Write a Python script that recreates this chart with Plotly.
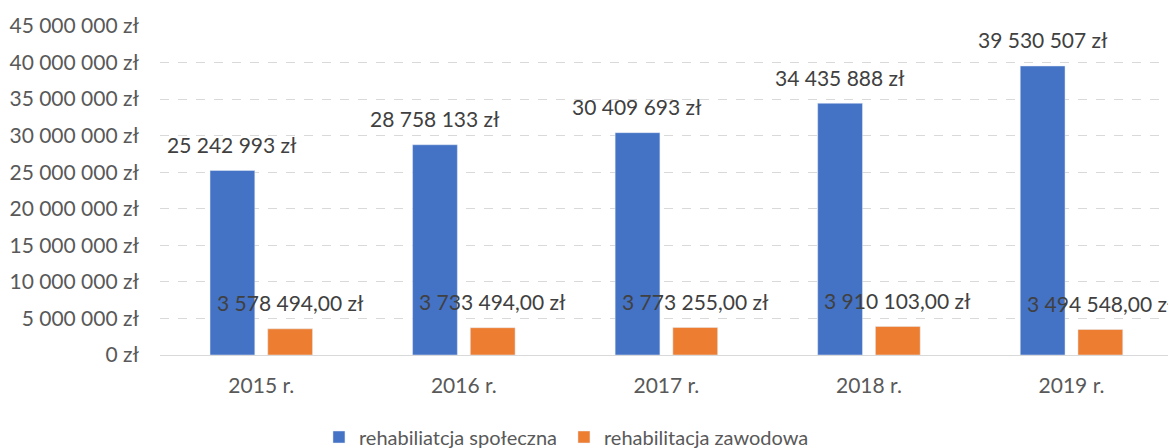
import plotly.graph_objects as go

categories = ["2015 r.", "2016 r.", "2017 r.", "2018 r.", "2019 r."]
spoleczna = [25242993, 28758133, 30409693, 34435888, 39530507]
zawodowa = [3578494.00, 3733494.00, 3773255.00, 3910103.00, 3494548.00]
series_names = ["rehabiliatcja społeczna", "rehabilitacja zawodowa"]
y_ticks = [0, 5000000, 10000000, 15000000, 20000000, 25000000, 30000000, 35000000, 40000000, 45000000]

BLUE = "#4472C4"
ORANGE = "#ED7D31"
TXT = "#595959"
FONT = "Lato"

def fmt(v, dec):
    s = f"{v:,.{dec}f}"
    s = s.replace(",", " ").replace(".", ",")
    return s + " zł"

fig = go.Figure()
fig.add_trace(go.Bar(x=categories, y=spoleczna, name=series_names[0], marker_color=BLUE))
fig.add_trace(go.Bar(x=categories, y=zawodowa, name=series_names[1], marker_color=ORANGE))

annotations = []
for c, v in zip(categories, spoleczna):
    annotations.append(dict(x=c, y=v, text=fmt(v, 0), showarrow=False, xshift=-29, yshift=26,
                            yanchor="middle", font=dict(size=21, color="#404040", family=FONT)))
for c, v in zip(categories, zawodowa):
    annotations.append(dict(x=c, y=v, text=fmt(v, 2), showarrow=False, xshift=29, yshift=26,
                            yanchor="middle", font=dict(size=21, color="#404040", family=FONT)))

# page has an 8px body margin; figure is sized/offset to compensate
fig.update_layout(
    width=1168, height=440,
    margin=dict(l=152, r=0, t=18, b=93),
    paper_bgcolor="white", plot_bgcolor="white",
    barmode="group", bargap=0.43, bargroupgap=0.224,
    font=dict(family=FONT, size=21, color=TXT),
    annotations=annotations,
    showlegend=True,
    legend=dict(orientation="h", xref="container", yref="container", x=0.476, xanchor="center",
                y=0.025, yanchor="middle", font=dict(size=20, color=TXT), entrywidth=200,
                traceorder="normal"),
)
fig.update_yaxes(range=[0, 45000000], tickvals=y_ticks,
                 ticktext=[fmt(v, 0) for v in y_ticks],
                 showgrid=True, gridcolor="#D9D9D9", griddash="dash", gridwidth=1,
                 zeroline=False, showline=False, ticks="", ticklabelstandoff=20,
                 tickfont=dict(size=21, color=TXT, family=FONT))
fig.update_xaxes(showline=True, linecolor="#D9D9D9", linewidth=1, ticks="",
                 ticklabelstandoff=12, tickfont=dict(size=21, color=TXT, family=FONT))

fig.write_html("out.html")
